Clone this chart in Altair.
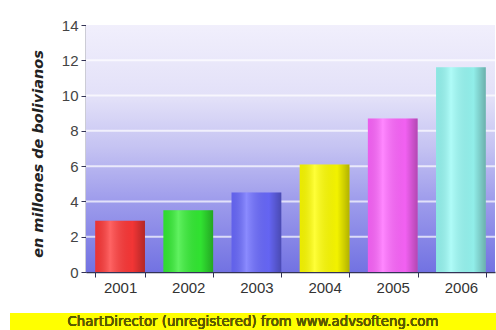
import altair as alt
import pandas as pd

years = ["2001", "2002", "2003", "2004", "2005", "2006"]
values = [2.9, 3.5, 4.5, 6.1, 8.7, 11.6]
colors = ["#ff3838", "#33ee33", "#6a6aff", "#ffff00", "#ff66ff", "#99fbf6"]
y_ticks = [0, 2, 4, 6, 8, 10, 12, 14]
y_title = "en millones de bolivianos"
banner = "ChartDirector (unregistered) from www.advsofteng.com"

df = pd.DataFrame({"year": years, "value": values})
grid_df = pd.DataFrame({"value": y_ticks[1:-1]})

W, H = 409, 247

x_enc = alt.X("year:N", sort=years,
              scale=alt.Scale(paddingInner=0.27, paddingOuter=0.135),
              axis=alt.Axis(title=None, labelAngle=0, tickBand="extent",
                            grid=False,
                            labelFontSize=15, labelColor="#333333", labelPadding=3,
                            tickSize=5, tickColor="#333355", domainColor="#333355",
                            domainWidth=1.5, labelFont="Liberation Sans"))

y_scale = alt.Scale(domain=[0, 14], nice=False)
y_axis = alt.Axis(values=y_ticks, title=y_title, grid=False,
                  labelOverlap=False,
                  labelFontSize=15, labelColor="#444444",
                  labelFont="Liberation Sans", tickSize=5,
                  tickColor="#333355", domainColor="#333355",
                  domainWidth=1.5, labelPadding=3,
                  titleFont="DejaVu Sans", titleFontSize=14.5,
                  titleFontWeight="bold", titleFontStyle="italic",
                  titleColor="#222222", titleAngle=270,
                  titleBaseline="middle", titleAlign="center",
                  titleX=-48, titleY=H / 2 + 5)
y_enc = alt.Y("value:Q", scale=y_scale, axis=y_axis)

bg = alt.Chart(df).mark_rect(
    fill={"gradient": "linear", "x1": 0, "y1": 0, "x2": 0, "y2": 1,
          "stops": [
              {"offset": 0, "color": "#f1effc"},
              {"offset": 0.3, "color": "#e2e0f8"},
              {"offset": 0.5, "color": "#c4c2f2"},
              {"offset": 0.7, "color": "#a09eec"},
              {"offset": 1, "color": "#7272e2"},
          ]}
).encode(x=alt.value(0), x2=alt.value(W), y=alt.value(0), y2=alt.value(H))

grid = alt.Chart(grid_df).mark_rule(color="#ffffff", opacity=0.7, strokeWidth=2).encode(
    y=y_enc, x=alt.value(0), x2=alt.value(W),
)

bars = alt.Chart(df).mark_bar().encode(
    x=x_enc, y=y_enc,
    color=alt.Color("year:N", sort=years,
                    scale=alt.Scale(domain=years, range=colors), legend=None),
)

shade = alt.Chart(df).mark_bar(
    fill={"gradient": "linear", "x1": 0, "y1": 0, "x2": 1, "y2": 0,
          "stops": [
              {"offset": 0, "color": "rgba(0,0,0,0.08)"},
              {"offset": 0.3, "color": "rgba(255,255,255,0.22)"},
              {"offset": 0.75, "color": "rgba(0,0,0,0.05)"},
              {"offset": 1, "color": "rgba(0,0,0,0.3)"},
          ]}
).encode(x=x_enc, y=y_enc)

band = alt.Chart(df).mark_rect(color="#ffff00", clip=False).encode(
    x=alt.value(-76), x2=alt.value(W + 1),
    y=alt.value(H + 41), y2=alt.value(H + 58),
)
band_text = alt.Chart(df).mark_text(
    text=banner, fontSize=13.3, font="DejaVu Sans", color="#5a5a00",
    baseline="middle", align="center", clip=False
).encode(x=alt.value(167), y=alt.value(H + 50))

chart = alt.layer(bg, grid, bars, shade, band, band_text).properties(
    width=W, height=H,
    autosize=alt.AutoSizeParams(type="none"),
    padding={"left": 86, "top": 25, "right": 1, "bottom": 58},
    background="#ffffff",
).configure_view(stroke=None).configure_axis(zindex=1)

chart.save("out.html", embed_options={"renderer": "svg", "actions": False})
